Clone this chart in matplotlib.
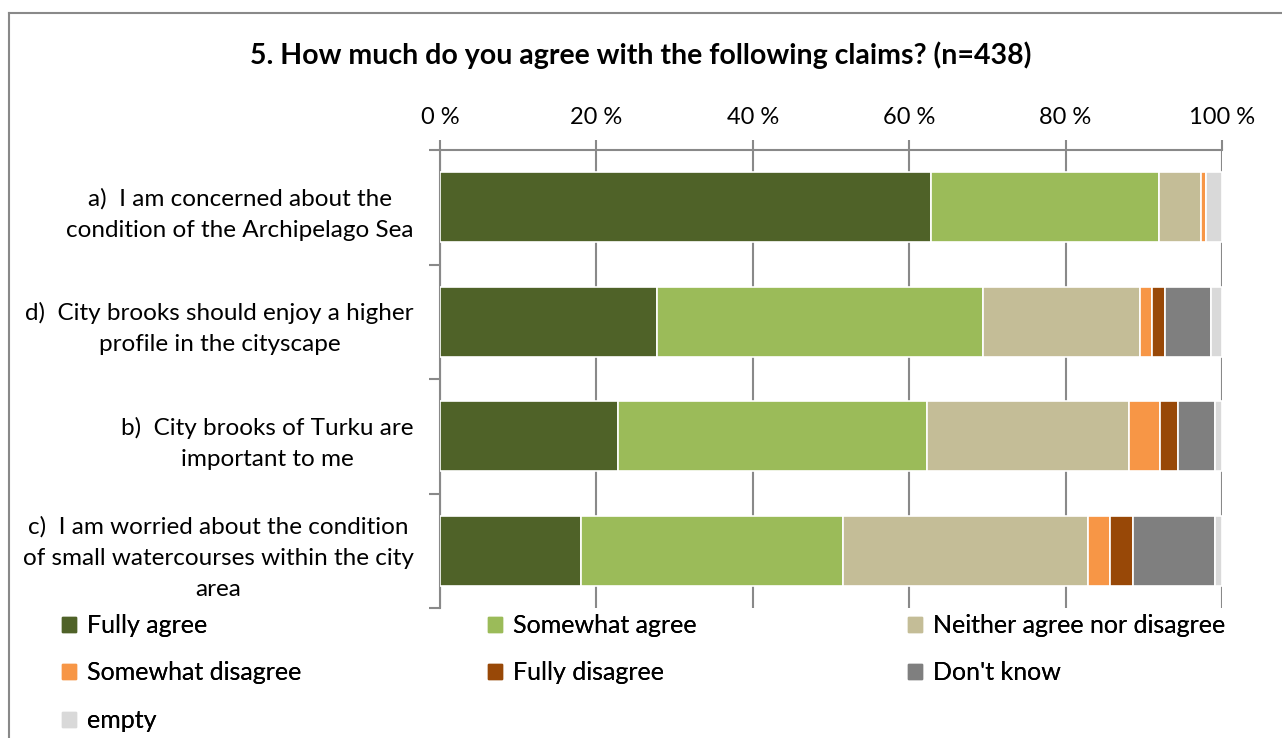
import matplotlib.pyplot as plt
from matplotlib.patches import Patch
from matplotlib.lines import Line2D
from matplotlib.ticker import FuncFormatter

plt.rcParams['font.family'] = ['Lato', 'DejaVu Sans']

claims = ['a)  I am concerned about the\ncondition of the Archipelago Sea',
          'd)  City brooks should enjoy a higher\nprofile in the cityscape',
          'b)  City brooks of Turku are\nimportant to me',
          'c)  I am worried about the condition\nof small watercourses within the city\narea']

answers = ['Fully agree', 'Somewhat agree', 'Neither agree nor disagree',
           'Somewhat disagree', 'Fully disagree', "Don't know", 'empty']
colors = ['#4f6228', '#9bbb59', '#c4bd97', '#f79646', '#984807', '#7f7f7f', '#d9d9d9']

# percent per claim, in answer order
fully_agree = [62.8, 27.7, 22.8, 18.0]
somewhat_agree = [29.2, 41.7, 39.5, 33.5]
neither = [5.3, 20.1, 25.8, 31.4]
somewhat_disagree = [0.7, 1.5, 4.0, 2.8]
fully_disagree = [0.0, 1.7, 2.3, 2.9]
dont_know = [0.0, 5.9, 4.7, 10.5]
empty = [2.0, 1.4, 0.9, 0.9]

series = [fully_agree, somewhat_agree, neither, somewhat_disagree,
          fully_disagree, dont_know, empty]

fig = plt.figure(figsize=(12.82, 7.38), dpi=100)
ax = fig.add_axes([440 / 1282, 1 - 608 / 738, 782 / 1282, 458 / 738])

grid_c = '#898989'
ypos = range(len(claims))
left = [0.0] * len(claims)
for vals, name, col in zip(series, answers, colors):
    ax.barh(ypos, vals, left=left, height=0.61, color=col, label=name,
            edgecolor='white', linewidth=1.2, zorder=3)
    left = [l + v for l, v in zip(left, vals)]

ax.set_xlim(0, 100)
ax.set_ylim(len(claims) - 0.5, -0.5)
ax.xaxis.tick_top()
ax.set_xticks(range(0, 101, 20))
ax.xaxis.set_major_formatter(FuncFormatter(lambda v, p: '%d %%' % v))
ax.tick_params(axis='x', length=7, width=1.5, color=grid_c, labelsize=17, pad=9)
ax.grid(axis='x', color=grid_c, linewidth=1.5, zorder=0)

ax.set_yticks([i - 0.5 for i in range(len(claims) + 1)], minor=False)
ax.set_yticklabels([])
ax.set_yticks(list(ypos), minor=True)
ax.set_yticklabels(claims, minor=True, fontsize=17.5, multialignment='center',
                   linespacing=1.6)
ax.tick_params(axis='y', which='major', length=8, width=1.5, color=grid_c)
ax.tick_params(axis='y', which='minor', length=0, pad=19)

for s in ['right', 'bottom']:
    ax.spines[s].set_visible(False)
for s in ['top', 'left']:
    ax.spines[s].set_color(grid_c)
    ax.spines[s].set_linewidth(1.5)

fig.text(0.5, 1 - 55 / 738, '5. How much do you agree with the following claims? (n=438)',
         ha='center', va='center', fontsize=20.5, fontweight='bold')

# chart frame (top and left edges visible)
fig.add_artist(Line2D([9 / 1282, 1.0], [1 - 13 / 738] * 2, color=grid_c, linewidth=1.5))
fig.add_artist(Line2D([9 / 1282] * 2, [0, 1 - 13 / 738], color=grid_c, linewidth=1.5))

# legend: three columns of equal width, filled row by row
handles = [Patch(color=c) for c in colors]
col_x = [62, 488, 908]
for k, x0 in enumerate(col_x):
    idx = list(range(k, len(answers), 3))
    leg = fig.legend([handles[i] for i in idx], [answers[i] for i in idx],
                     loc='upper left', bbox_to_anchor=(x0 / 1282, 1 - 614 / 738),
                     frameon=False, fontsize=18, handlelength=0.55, handleheight=0.55,
                     handletextpad=0.45, labelspacing=0.98, borderpad=0,
                     borderaxespad=0)
    fig.add_artist(leg)

fig.savefig('out.png', dpi=100)
